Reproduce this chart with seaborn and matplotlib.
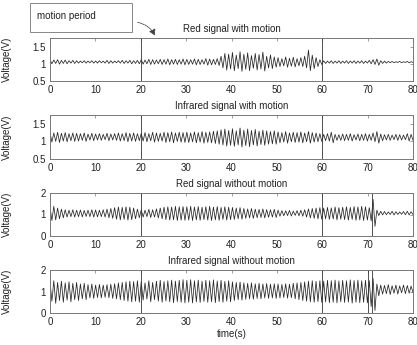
import numpy as np
import pandas as pd
import matplotlib
matplotlib.use("Agg")
import matplotlib.pyplot as plt
from matplotlib.patches import Rectangle, FancyArrowPatch
import seaborn as sns

# ---- data: per-beat peak / trough voltages (V), 12 beats per 10 s row ----
red_motion_peaks = [
    1.12, 1.11, 1.12, 1.10, 1.11, 1.09, 1.10, 1.09, 1.08, 1.09, 1.08, 1.09,
    1.08, 1.09, 1.08, 1.10, 1.09, 1.08, 1.09, 1.10, 1.09, 1.10, 1.09, 1.10,
    1.12, 1.11, 1.13, 1.12, 1.11, 1.13, 1.12, 1.14, 1.12, 1.13, 1.12, 1.14,
    1.13, 1.12, 1.14, 1.13, 1.12, 1.15, 1.14, 1.13, 1.15, 1.22, 1.30, 1.28,
    1.33, 1.25, 1.35, 1.28, 1.32, 1.24, 1.30, 1.27, 1.34, 1.22, 1.26, 1.20,
    1.18, 1.15, 1.20, 1.16, 1.19, 1.15, 1.18, 1.22, 1.40, 1.25, 1.18, 1.12,
    1.09, 1.08, 1.09, 1.08, 1.09, 1.08, 1.09, 1.08, 1.09, 1.08, 1.09, 1.08,
    1.10, 1.12, 1.14, 1.09, 1.08, 1.07, 1.07, 1.06, 1.07, 1.06, 1.07, 1.06,
]
red_motion_troughs = [
    1.00, 1.01, 0.99, 1.01, 1.00, 1.02, 1.01, 1.02, 1.03, 1.02, 1.03, 1.02,
    1.02, 1.03, 1.02, 1.01, 1.02, 1.03, 1.02, 1.01, 1.02, 1.00, 1.01, 1.00,
    0.99, 1.00, 0.98, 0.99, 1.00, 0.98, 0.99, 0.97, 0.99, 0.98, 0.99, 0.97,
    0.98, 0.99, 0.97, 0.98, 0.99, 0.96, 0.97, 0.98, 0.95, 0.88, 0.82, 0.85,
    0.80, 0.86, 0.78, 0.84, 0.80, 0.87, 0.82, 0.85, 0.79, 0.88, 0.86, 0.90,
    0.92, 0.94, 0.90, 0.93, 0.91, 0.94, 0.92, 0.88, 0.80, 0.86, 0.92, 0.98,
    1.01, 1.02, 1.01, 1.02, 1.01, 1.02, 1.01, 1.02, 1.01, 1.02, 1.01, 1.02,
    1.00, 0.98, 0.96, 1.01, 1.02, 1.03, 1.03, 1.04, 1.03, 1.04, 1.03, 1.04,
]

ir_motion_peaks = [
    1.25, 1.24, 1.26, 1.23, 1.25, 1.22, 1.24, 1.23, 1.22, 1.24, 1.21, 1.23,
    1.21, 1.22, 1.20, 1.23, 1.21, 1.22, 1.24, 1.22, 1.25, 1.23, 1.24, 1.22,
    1.23, 1.25, 1.22, 1.26, 1.24, 1.23, 1.26, 1.25, 1.27, 1.24, 1.26, 1.25,
    1.26, 1.24, 1.27, 1.25, 1.28, 1.26, 1.27, 1.29, 1.30, 1.33, 1.35, 1.31,
    1.36, 1.30, 1.38, 1.32, 1.35, 1.31, 1.34, 1.29, 1.32, 1.30, 1.28, 1.30,
    1.27, 1.25, 1.28, 1.24, 1.26, 1.25, 1.27, 1.24, 1.28, 1.25, 1.24, 1.22,
    1.20, 1.22, 1.26, 1.20, 1.19, 1.21, 1.20, 1.22, 1.19, 1.21, 1.20, 1.22,
    1.20, 1.24, 1.28, 1.21, 1.19, 1.20, 1.18, 1.20, 1.19, 1.18, 1.22, 1.20,
]
ir_motion_troughs = [
    0.98, 1.00, 0.97, 1.01, 0.99, 1.02, 1.00, 1.01, 1.03, 1.00, 1.04, 1.02,
    1.04, 1.03, 1.05, 1.02, 1.04, 1.03, 1.01, 1.02, 0.99, 1.01, 1.00, 1.02,
    1.01, 0.99, 1.02, 0.98, 1.00, 1.01, 0.97, 0.99, 0.96, 1.00, 0.98, 0.97,
    0.97, 0.99, 0.96, 0.98, 0.95, 0.97, 0.96, 0.94, 0.92, 0.90, 0.87, 0.89,
    0.86, 0.90, 0.84, 0.88, 0.85, 0.90, 0.87, 0.91, 0.89, 0.92, 0.93, 0.92,
    0.96, 0.98, 0.95, 0.99, 0.97, 0.98, 0.96, 0.99, 0.95, 0.98, 0.99, 1.00,
    1.02, 1.01, 0.96, 1.03, 1.03, 1.02, 1.03, 1.01, 1.04, 1.02, 1.03, 1.01,
    1.03, 0.99, 0.95, 1.02, 1.04, 1.03, 1.05, 1.03, 1.04, 1.05, 1.01, 1.03,
]

red_rest_peaks = [
    1.35, 1.38, 1.30, 1.25, 1.22, 1.20, 1.22, 1.20, 1.21, 1.19, 1.20, 1.22,
    1.21, 1.20, 1.22, 1.25, 1.28, 1.32, 1.35, 1.33, 1.36, 1.34, 1.30, 1.25,
    1.22, 1.20, 1.24, 1.22, 1.26, 1.30, 1.34, 1.36, 1.35, 1.38, 1.36, 1.37,
    1.36, 1.38, 1.35, 1.37, 1.34, 1.36, 1.38, 1.35, 1.37, 1.33, 1.36, 1.34,
    1.33, 1.30, 1.32, 1.28, 1.26, 1.28, 1.25, 1.24, 1.26, 1.23, 1.22, 1.24,
    1.20, 1.18, 1.17, 1.19, 1.16, 1.18, 1.20, 1.22, 1.26, 1.28, 1.30, 1.32,
    1.30, 1.33, 1.31, 1.35, 1.32, 1.34, 1.36, 1.33, 1.37, 1.35, 1.38, 1.36,
    1.32, 1.70, 1.20, 1.15, 1.14, 1.12, 1.15, 1.13, 1.12, 1.14, 1.15, 1.13,
]
red_rest_troughs = [
    0.72, 0.75, 0.80, 0.85, 0.88, 0.90, 0.88, 0.90, 0.89, 0.91, 0.90, 0.88,
    0.89, 0.90, 0.88, 0.85, 0.82, 0.78, 0.75, 0.77, 0.74, 0.76, 0.80, 0.85,
    0.88, 0.90, 0.86, 0.88, 0.84, 0.80, 0.76, 0.74, 0.75, 0.72, 0.74, 0.73,
    0.74, 0.72, 0.75, 0.73, 0.76, 0.74, 0.72, 0.75, 0.73, 0.77, 0.74, 0.76,
    0.77, 0.80, 0.78, 0.82, 0.84, 0.82, 0.85, 0.86, 0.84, 0.87, 0.88, 0.86,
    0.92, 0.94, 0.95, 0.93, 0.96, 0.94, 0.92, 0.88, 0.84, 0.82, 0.80, 0.78,
    0.80, 0.77, 0.79, 0.75, 0.78, 0.76, 0.74, 0.77, 0.73, 0.75, 0.72, 0.74,
    0.70, 0.45, 0.95, 0.98, 0.99, 1.00, 0.98, 1.00, 1.01, 0.99, 0.98, 1.00,
]

ir_rest_peaks = [
    1.45, 1.50, 1.42, 1.48, 1.40, 1.45, 1.38, 1.42, 1.35, 1.38, 1.32, 1.35,
    1.30, 1.33, 1.30, 1.32, 1.34, 1.36, 1.40, 1.42, 1.45, 1.48, 1.46, 1.50,
    1.45, 1.40, 1.50, 1.42, 1.48, 1.52, 1.46, 1.50, 1.53, 1.48, 1.52, 1.55,
    1.52, 1.55, 1.50, 1.53, 1.48, 1.52, 1.50, 1.54, 1.49, 1.52, 1.47, 1.50,
    1.45, 1.42, 1.44, 1.40, 1.38, 1.40, 1.36, 1.38, 1.35, 1.37, 1.34, 1.36,
    1.35, 1.33, 1.36, 1.34, 1.38, 1.40, 1.42, 1.45, 1.48, 1.50, 1.47, 1.50,
    1.48, 1.52, 1.50, 1.53, 1.49, 1.52, 1.50, 1.54, 1.51, 1.53, 1.50, 1.52,
    1.50, 1.60, 1.35, 1.30, 1.28, 1.32, 1.27, 1.30, 1.26, 1.30, 1.28, 1.25,
]
ir_rest_troughs = [
    0.55, 0.45, 0.58, 0.50, 0.60, 0.52, 0.62, 0.58, 0.66, 0.62, 0.70, 0.68,
    0.72, 0.70, 0.73, 0.71, 0.68, 0.66, 0.62, 0.58, 0.55, 0.52, 0.55, 0.50,
    0.60, 0.65, 0.52, 0.62, 0.55, 0.50, 0.56, 0.52, 0.48, 0.53, 0.50, 0.47,
    0.50, 0.47, 0.52, 0.49, 0.54, 0.50, 0.52, 0.48, 0.53, 0.50, 0.55, 0.52,
    0.58, 0.62, 0.60, 0.64, 0.66, 0.64, 0.68, 0.66, 0.70, 0.68, 0.70, 0.68,
    0.70, 0.72, 0.69, 0.71, 0.66, 0.62, 0.58, 0.55, 0.52, 0.50, 0.53, 0.50,
    0.52, 0.48, 0.50, 0.47, 0.52, 0.49, 0.51, 0.46, 0.50, 0.48, 0.50, 0.47,
    0.30, 0.12, 0.80, 0.88, 0.90, 0.86, 0.92, 0.88, 0.94, 0.90, 0.92, 0.95,
]

titles = ["Red signal with motion", "Infrared signal with motion",
          "Red signal without motion", "Infrared signal without motion"]
ylims = [(0.5, 1.75), (0.5, 1.75), (0, 2), (0, 2)]
yticks = [[0.5, 1, 1.5], [0.5, 1, 1.5], [0, 1, 2], [0, 1, 2]]
ytick_labels = [["0.5", "1", "1.5"], ["0.5", "1", "1.5"], ["0", "1", "2"], ["0", "1", "2"]]
markers = [[20, 60], [20, 60], [20, 60, 71], [20, 60, 70, 71]]
xticks = [0, 10, 20, 30, 40, 50, 60, 70, 80]
duration = 80

series = [
    (red_motion_peaks, red_motion_troughs),
    (ir_motion_peaks, ir_motion_troughs),
    (red_rest_peaks, red_rest_troughs),
    (ir_rest_peaks, ir_rest_troughs),
]

sns.set_style("white")
plt.rcParams["font.family"] = ["Liberation Sans", "DejaVu Sans"]
plt.rcParams["font.size"] = 7

W, H = 417, 345
fig = plt.figure(figsize=(W / 100, H / 100), dpi=100)

# axes boxes in pixels (left, top, width, height)
boxes = [(50, 38, 363, 43), (50, 115, 363, 44), (50, 193, 363, 43), (50, 270, 363, 43)]
text_color = "#222222"

for i, ((pk, tr), box) in enumerate(zip(series, boxes)):
    l, t, w, h = box
    ax = fig.add_axes([l / W, (H - t - h) / H, w / W, h / H])
    volts = np.column_stack([pk, tr]).ravel()
    df = pd.DataFrame({"time": np.linspace(0, duration, len(volts)), "volt": volts})
    sns.lineplot(data=df, x="time", y="volt", ax=ax, color="#262626", linewidth=0.55)
    for m in markers[i]:
        ax.axvline(m, color="#333333", linewidth=0.6)
    ax.set_xlim(0, duration)
    ax.set_ylim(*ylims[i])
    ax.set_xticks(xticks)
    ax.set_yticks(yticks[i])
    ax.set_yticklabels(ytick_labels[i])
    ax.tick_params(direction="in", top=True, right=True, length=2.5, width=0.5,
                   color="#777777", labelsize=7, pad=3, labelcolor=text_color)
    for s in ax.spines.values():
        s.set_color("#777777")
        s.set_linewidth(0.7)
    ax.set_title(titles[i], fontsize=7, pad=4.5, color=text_color)
    ax.set_ylabel("Voltage(V)", fontsize=7, color=text_color)
    ax.yaxis.set_label_coords(-0.105, 0.5)
    ax.set_xlabel("time(s)" if i == 3 else "", fontsize=7, labelpad=1, color=text_color)

# note box for the marked interval
fig.patches.append(Rectangle((30 / W, (H - 32) / H), 102 / W, 29 / H,
                             transform=fig.transFigure, fill=False,
                             edgecolor="#888888", linewidth=0.7))
fig.text(37 / W, (H - 16) / H, "motion period", fontsize=7, va="center",
         ha="left", color=text_color)
fig.patches.append(FancyArrowPatch(
    (135 / W, (H - 22) / H), (156 / W, (H - 38) / H),
    transform=fig.transFigure, connectionstyle="arc3,rad=-0.3",
    arrowstyle="-|>,head_length=3.5,head_width=2", color="#444444",
    linewidth=0.6, linestyle=(0, (2, 1))))

fig.savefig("out.png", dpi=100, facecolor="white")
